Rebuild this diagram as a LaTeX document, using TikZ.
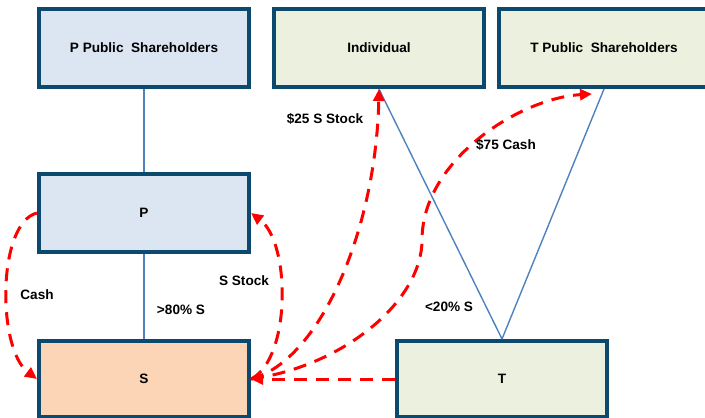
\documentclass[tikz,border=0pt]{standalone}
\usepackage{fontspec}
\setmainfont{Liberation Sans}
\usepackage{xcolor}
\usetikzlibrary{positioning,arrows.meta}
\definecolor{navyedge}{HTML}{0B4A6E}
\definecolor{paleblue}{HTML}{DCE6F2}
\definecolor{palegreen}{HTML}{EBF1DE}
\definecolor{peach}{HTML}{FBD5B5}
\definecolor{linkblue}{HTML}{4F81BD}
\definecolor{flowred}{HTML}{FF0000}
\tikzset{
  ent/.style={rectangle, draw=navyedge, fill=#1, line width=2pt,
              minimum width=105pt, minimum height=39pt, align=center,
              font=\fontsize{6.8pt}{8pt}\selectfont\bfseries, inner sep=2pt},
  own/.style={draw=linkblue, line width=0.7pt},
  flw/.style={-{Triangle[length=6pt,width=5.5pt]}, draw=flowred,
              line width=1.5pt, dash pattern=on 6.5pt off 4.5pt},
  lbl/.style={font=\fontsize{6.8pt}{8pt}\selectfont\bfseries, inner sep=1pt},
}

\begin{document}
\begin{tikzpicture}[x=0.5pt, y=-0.5pt]
  \clip (0,0) rectangle (705,417);
  \node[ent=paleblue] (pps) at (144,48) {P Public~ Shareholders};
  \node[ent=paleblue, below=41.5pt of pps] (p) {P};
  \node[ent=peach, below=42.5pt of p, minimum height=38pt] (s) {S};
  \node[ent=palegreen, right=10.5pt of pps] (ind) {Individual};
  \node[ent=palegreen, right=5.5pt of ind] (tps) {T Public~ Shareholders};
  \node[ent=palegreen, right=72pt of s, minimum height=38pt] (t) {T};

  \coordinate (bend) at (422,240);
  \coordinate (tpsin) at ([xshift=-6pt, yshift=-2.5pt]tps.south);

  \draw[own] (pps) -- (p);
  \draw[own] (p) -- (s);
  \draw[own] (ind.south) -- (t.north);
  \draw[own] (tps.south) -- (t.north);

  \draw[flw] (p.west) .. controls +(-40,10) and +(-40,-30) .. (s.west);
  \draw[flw] (s.east) .. controls +(40,-20) and +(40,30) .. (p.east);
  \draw[flw] (s.east) .. controls +(69,-18) and +(-3,141) .. (ind.south);
  \draw[flw] (s.east) .. controls +(94,-13) and +(0,60) .. (bend)
             .. controls +(0,-80) and +(-72,4) .. (tpsin);
  \draw[flw] (t) -- (s);

  \node[lbl] (l25) at (325,119) {\$25 S Stock};
  \node[lbl] (l75) at (506,145) {\$75 Cash};
  \node[lbl] (lcash) at (37,295) {Cash};
  \node[lbl] (lstock) at (244,281) {S Stock};
  \node[lbl] (l80) at (181,310) {>80\% S};
  \node[lbl] (l20) at (449,307) {<20\% S};
\end{tikzpicture}
\end{document}
